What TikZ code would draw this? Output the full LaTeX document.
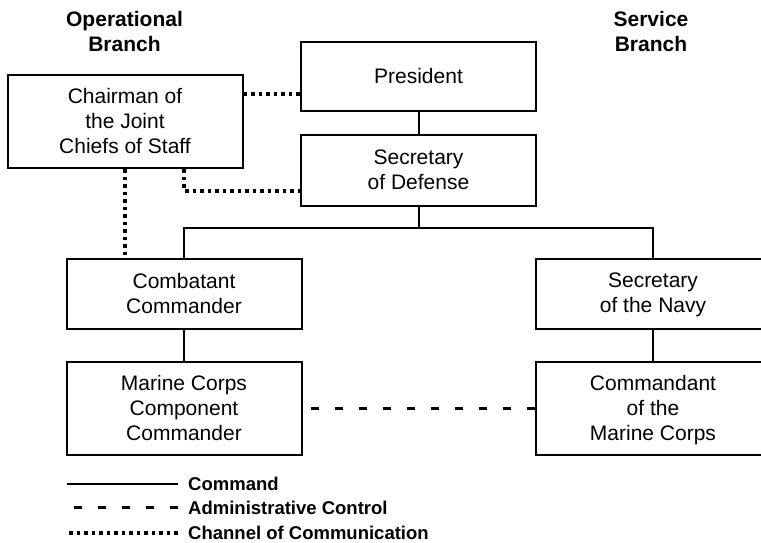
\documentclass[tikz,border=0pt]{standalone}
\usepackage{fontspec}
\setmainfont{Liberation Sans}
\begin{document}
\begin{tikzpicture}[x=1pt,y=-1pt,
	box/.style={draw, line width=2pt, minimum width=235pt, inner sep=0pt, align=center, text depth=2pt, font=\fontsize{21}{25}\selectfont},
	head/.style={align=center, font=\bfseries\fontsize{21}{25}\selectfont},
	key/.style={anchor=west, inner sep=0pt, font=\bfseries\fontsize{18.5}{22}\selectfont},
	cmd/.style={line width=2pt},
	adm/.style={line width=3.5pt, dash pattern=on 8pt off 16pt},
	comm/.style={line width=4pt, dash pattern=on 3.5pt off 4pt}]
				\useasboundingbox (0,0) rectangle (761,542);
				\clip (0,0) rectangle (761,542);
				\node[head] (opbranch) at (124.5,31) {Operational\\Branch};
				\node[head] (svbranch) at (651,31) {Service\\Branch};
				\node[box, minimum height=69pt] (President) at (418.5,76.5) {President};
				\node[box, minimum height=71pt] (SecDef) at (418.5,170.5) {Secretary\\of Defense};
				\node[box, minimum height=93pt] (Chairman) at (125,121.5) {Chairman of\\the Joint\\Chiefs of Staff};
				\node[box, minimum height=70pt] (Combatant) at (184,294) {Combatant\\Commander};
				\node[box, minimum height=70pt] (SecNav) at (653,294) {Secretary\\of the Navy};
				\node[box, minimum height=93pt] (Marine) at (184,408.5) {Marine Corps\\Component\\Commander};
				\node[box, minimum height=93pt] (Commandant) at (653,408.5) {Commandant\\of the\\Marine Corps};
				\coordinate (split) at (418.5,228);
				\draw[cmd] (President) to (SecDef);
				\draw[cmd] (SecDef) to (split);
				\draw[cmd] (Combatant.north) |- (split) -| (SecNav.north);
				\draw[cmd] (Combatant) to (Marine);
				\draw[cmd] (SecNav) to (Commandant);
				\draw[comm] ([yshift=-20pt]Chairman.north east) to ([yshift=-20pt]Chairman.north east -| President.west);
				\draw[comm] (Chairman.south -| Combatant.north) |- ([yshift=-20pt]SecDef.west);
				\draw[comm] (Chairman.south) to (Chairman.south |- Combatant.north);
				\draw[adm] (Commandant.west) to (Marine.east);
				\node[key] (kcmd) at (188,483.5) {Command};
				\node[key] (kadm) at (188,507.5) {Administrative Control};
				\node[key] (kcom) at (188,532.5) {Channel of Communication};
				\coordinate (kcmdstart) at (67,483.5);
				\coordinate (kadmstart) at (74,507.5);
				\coordinate (kcomstart) at (69,532.5);
				\draw[cmd] (kcmdstart) to ([xshift=-10pt]kcmd.west);
				\draw[adm] ([xshift=-10pt]kadm.west) to (kadmstart);
				\draw[comm] (kcomstart) to ([xshift=-10pt]kcom.west);
			\end{tikzpicture}
\end{document}
